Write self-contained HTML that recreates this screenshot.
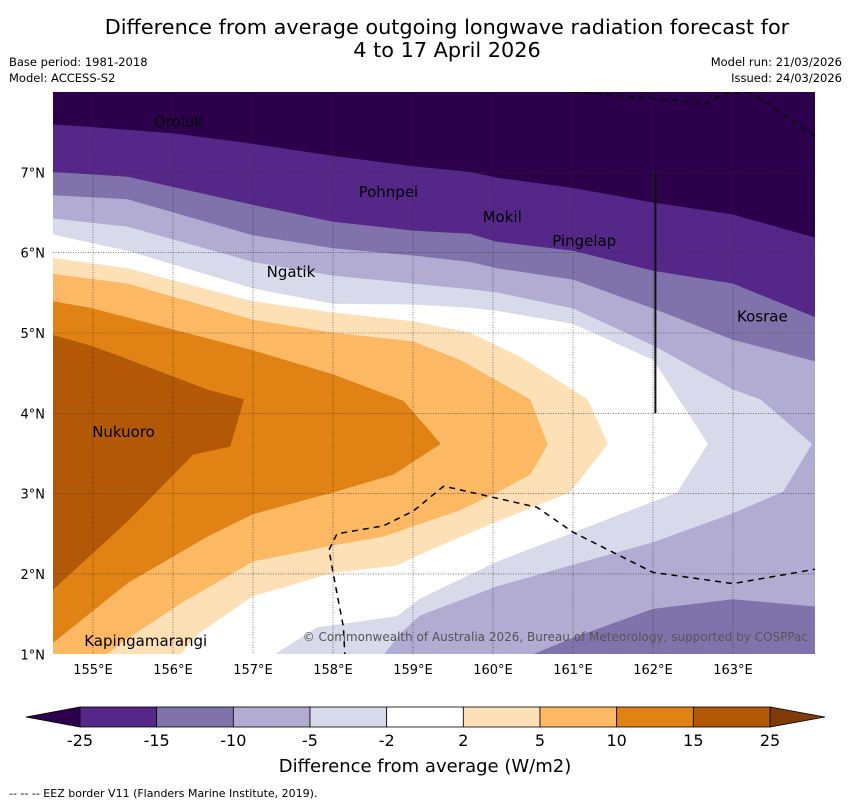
<!DOCTYPE html>
<html><head><meta charset="utf-8"><style>
body{margin:0;background:#fff;width:850px;height:804px;overflow:hidden;font-family:"DejaVu Sans","Liberation Sans",sans-serif;}
</style></head><body>
<svg id="chart" width="850" height="804" xmlns="http://www.w3.org/2000/svg" font-family="DejaVu Sans, Liberation Sans, sans-serif">
<text x="447" y="34" font-size="20.8" text-anchor="middle">Difference from average outgoing longwave radiation forecast for</text>
<text x="447" y="57" font-size="20.8" text-anchor="middle">4 to 17 April 2026</text>
<text x="9" y="66" font-size="11.5">Base period: 1981-2018</text>
<text x="9" y="82" font-size="11.5">Model: ACCESS-S2</text>
<text x="842" y="66" font-size="11.5" text-anchor="end">Model run: 21/03/2026</text>
<text x="842" y="82" font-size="11.5" text-anchor="end">Issued: 24/03/2026</text>
<defs><clipPath id="mapclip"><rect x="53" y="92" width="762" height="562"/></clipPath></defs>
<g id="map" clip-path="url(#mapclip)"></g>
<g id="axes"></g>
<g id="cbar"></g>
<text x="425" y="772" font-size="18" text-anchor="middle">Difference from average (W/m2)</text>
<text x="9" y="797" font-size="11">--  --  -- EEZ border V11 (Flanders Marine Institute, 2019).</text>
</svg>
<script>
const lonTicks=[155,156,157,158,159,160,161,162,163];
const latTicks=[1,2,3,4,5,6,7];
const levels=[-25,-15,-10,-5,-2,2,5,10,15,25];
const bandColors=["#542788","#8073ac","#b2abd2","#d8daeb","#ffffff","#fee0b6","#fdb863","#e08214","#b35806"];
const underColor="#2d004b", overColor="#7f3b08";
const c25=[[154.5,7.59],[154.96,7.56],[156,7.48],[157,7.35],[158,7.2],[159,7.07],[159.71,7.0],[160.05,6.93],[161,6.8],[162,6.62],[163,6.47],[164.03,6.18]];
const c15=[[154.5,7.0],[155.43,6.94],[157,6.59],[158,6.38],[159,6.27],[159.71,6.23],[160.05,6.13],[161,6.02],[162,5.77],[163,5.61],[164.03,5.19]];
const c10=[[154.5,6.71],[155.43,6.66],[157,6.21],[158,6.05],[159,5.96],[159.71,5.88],[160.05,5.8],[161,5.66],[162,5.3],[163,4.91],[164.03,4.64]];
const c5=[[154.5,6.42],[155.43,6.32],[157,5.88],[158,5.71],[159,5.61],[159.71,5.54],[160.05,5.5],[161,5.3],[162,4.84],[163,4.29],[163.34,4.17],[163.99,3.61],[164.03,3.61]];
const c2n=[[154.5,6.22],[155.43,6.02],[157,5.55],[158,5.36],[159,5.35],[159.71,5.31],[160.05,5.27],[161,5.11],[162,4.66],[162.68,3.62],[162.3,3.02],[161,2.52],[160.05,2.16],[159.09,1.7],[158.8,1.48],[157.8,1.34],[157.18,0.95],[154.5,0.95]];
const c2p=[[154.5,5.93],[155.43,5.8],[157,5.39],[158,5.25],[159,5.14],[159.71,5.0],[160.34,4.7],[161.18,4.17],[161.43,3.62],[160.96,3.02],[160.05,2.66],[159.09,2.25],[158.8,2.11],[158,2.02],[157,1.73],[156.3,1.25],[156.05,0.95],[154.5,0.95]];
const c5p=[[154.5,5.73],[155.43,5.61],[157,5.16],[158,5.0],[159,4.89],[159.59,4.66],[160.46,4.17],[160.68,3.61],[160.46,3.24],[160.05,3.02],[159.59,2.8],[159.09,2.63],[158.63,2.47],[158,2.36],[157,2.16],[156.13,1.66],[155.43,1.2],[155.09,0.95],[154.5,0.95]];
const c10p=[[154.5,5.39],[154.96,5.31],[157,4.78],[158,4.48],[158.88,4.15],[159.34,3.62],[158.75,3.24],[158,3.02],[157,2.75],[156.43,2.47],[155.43,1.89],[154.5,1.15]];
const c15p=[[154.5,4.97],[154.96,4.84],[155.38,4.69],[156.43,4.29],[156.88,4.17],[156.71,3.59],[156.25,3.49],[155.43,2.66],[154.5,1.81]];
const c5s=[[163.99,3.61],[164.03,3.67],[164.03,0.95],[158.63,0.95],[158.63,0.98],[158.84,1.25],[159.09,1.48],[160.05,1.84],[161,2.11],[162,2.39],[163,2.75],[163.63,3.02]];
const c10s=[[160.34,0.93],[161,1.2],[162,1.56],[163,1.68],[164.03,1.59],[164.03,0.93]];
const eezA=[[158.15,0.95],[158.13,1.34],[158,2.02],[157.95,2.3],[158.05,2.5],[158.63,2.6],[159,2.78],[159.38,3.09],[159.4,3.09],[160.55,2.83],[161,2.52],[162,2.02],[163,1.88],[164.03,2.06]];
const eezB=[[161,8.0],[162.68,7.86],[162.88,7.98],[163.21,8.0],[163.46,7.84],[164.03,7.45]];
const islands=[["Oroluk",155.76,7.62],["Pohnpei",158.32,6.75],["Mokil",159.87,6.44],["Pingelap",160.74,6.14],["Ngatik",157.17,5.75],["Kosrae",163.05,5.2],["Nukuoro",154.99,3.76],["Kapingamarangi",154.89,1.16]];
const NS="http://www.w3.org/2000/svg";
const X=lon=>53+(lon-154.5)*80;
const Y=lat=>92+(8-lat)*80.33;
function mk(tag,attrs,parent){const e=document.createElementNS(NS,tag);for(const k in attrs)e.setAttribute(k,attrs[k]);parent.appendChild(e);return e;}
const map=document.getElementById('map');
const pts=a=>a.map(p=>X(p[0]).toFixed(1)+','+Y(p[1]).toFixed(1)).join(' ');
let bg=mk('rect',{x:53,y:92,width:762,height:562,fill:underColor},map);


const bottomClose=[[164.03,0.9],[154.5,0.9]];
const layers=[[c25.concat(bottomClose),bandColors[0],"band-minus25-minus15"],[c15.concat(bottomClose),bandColors[1],"band-minus15-minus10"],[c10.concat(bottomClose),bandColors[2],"band-minus10-minus5"],[c5.concat(bottomClose),bandColors[3],"band-minus5-minus2"],[c2n,bandColors[4],"band-minus2-2"],[c2p,bandColors[5],"band-2-5"],[c5p,bandColors[6],"band-5-10"],[c10p,bandColors[7],"band-10-15"],[c15p,bandColors[8],"band-15-25"],[c5s,bandColors[2],"band-minus10-minus5-south"],[c10s,bandColors[1],"band-minus15-minus10-south"]];
layers.forEach(l=>{const p=mk('polygon',{points:pts(l[0]),fill:l[1],stroke:l[1],'stroke-width':0.8},map);

});
lonTicks.forEach(v=>{const g=mk('line',{x1:X(v),x2:X(v),y1:92,y2:654,stroke:'#333','stroke-width':0.6,'stroke-dasharray':'1,1.5'},map);

});
latTicks.forEach(v=>{const g=mk('line',{x1:53,x2:815,y1:Y(v),y2:Y(v),stroke:'#333','stroke-width':0.6,'stroke-dasharray':'1,1.5'},map);

});
[eezA,eezB].forEach(e=>{const l=mk('polyline',{points:pts(e),fill:'none',stroke:'#000','stroke-width':1.5,'stroke-dasharray':'6,5'},map);

});
const vl=mk('line',{x1:X(162.03),x2:X(162.03),y1:Y(7),y2:Y(4),stroke:'#111','stroke-width':2},map);


islands.forEach(s=>{const t=mk('text',{x:X(s[1]),y:Y(s[2]),'font-size':15,'dominant-baseline':'middle',fill:'#000'},map);t.textContent=s[0];

});
const cp=mk('text',{x:808,y:641,'font-size':12,'text-anchor':'end',fill:'#555'},map);cp.textContent="© Commonwealth of Australia 2026, Bureau of Meteorology, supported by COSPPac";


const axes=document.getElementById('axes');
lonTicks.forEach(v=>{const t=mk('text',{x:X(v),y:674,'font-size':13,'text-anchor':'middle'},axes);t.textContent=v+"°E";

});
latTicks.forEach(v=>{const t=mk('text',{x:45,y:Y(v)+5,'font-size':13,'text-anchor':'end'},axes);t.textContent=v+"°N";

});
const cb=document.getElementById('cbar');
const cbX0=80,cbX1=770,cbY=707,cbH=20;
const cbx=i=>cbX0+(cbX1-cbX0)*i/(levels.length-1);
let tl=mk('polygon',{points:`${cbX0},${cbY} ${cbX0},${cbY+cbH} 26,${cbY+cbH/2}`,fill:underColor,stroke:'#000','stroke-width':0.8},cb);


let tr=mk('polygon',{points:`${cbX1},${cbY} ${cbX1},${cbY+cbH} 825,${cbY+cbH/2}`,fill:overColor,stroke:'#000','stroke-width':0.8},cb);


bandColors.forEach((c,i)=>{const r=mk('rect',{x:cbx(i),y:cbY,width:cbx(i+1)-cbx(i),height:cbH,fill:c,stroke:'#000','stroke-width':0.8},cb);

});
levels.forEach((v,i)=>{const t=mk('text',{x:cbx(i),y:746,'font-size':16,'text-anchor':'middle'},cb);t.textContent=v;

});
</script>
</body></html>
